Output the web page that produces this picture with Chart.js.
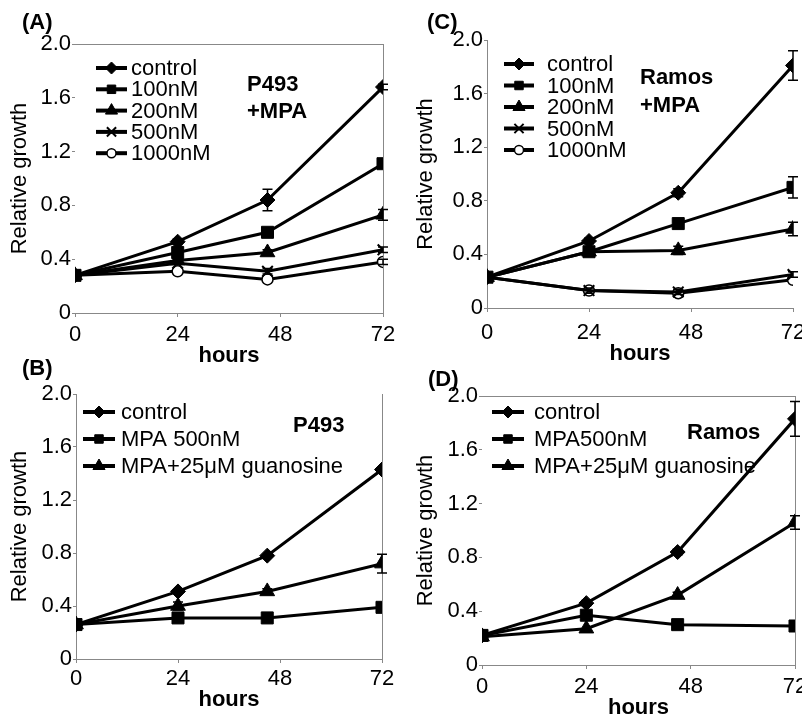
<!DOCTYPE html>
<html>
<head>
<meta charset="utf-8">
<script src="https://cdn.jsdelivr.net/npm/chart.js@4.4.1/dist/chart.umd.min.js"></script>
<style>
  html, body { margin: 0; padding: 0; background: #fff; width: 802px; height: 718px; overflow: hidden; }
  body { position: relative; }
  canvas { position: absolute; }
</style>
</head>
<body>
<canvas id="chartA"></canvas>
<canvas id="chartC"></canvas>
<canvas id="chartB"></canvas>
<canvas id="chartD"></canvas>
<script>
// sampling times (hours) and axis ticks
var hours = [0, 24, 45, 72];
var hourTicks = [0, 24, 48, 72];
var growthTicks = [0, 0.4, 0.8, 1.2, 1.6, 2.0];

// (A) P493 + MPA
var aLabels = ['control', '100nM', '200nM', '500nM', '1000nM'];
var aControl = [0.28, 0.53, 0.84, 1.68];
var a100 = [0.28, 0.45, 0.60, 1.11];
var a200 = [0.28, 0.39, 0.45, 0.73];
var a500 = [0.28, 0.37, 0.31, 0.47];
var a1000 = [0.28, 0.31, 0.25, 0.38];
var aControlErr = [0, 0.02, 0.08, 0.02];
var a200Err = [0, 0, 0.02, 0.04];
var a500Err = [0, 0, 0.02, 0.02];
var a1000Err = [0, 0, 0, 0.02];

// (C) Ramos + MPA
var cLabels = ['control', '100nM', '200nM', '500nM', '1000nM'];
var cControl = [0.23, 0.50, 0.86, 1.81];
var c100 = [0.23, 0.42, 0.63, 0.90];
var c200 = [0.23, 0.42, 0.43, 0.59];
var c500 = [0.23, 0.13, 0.12, 0.25];
var c1000 = [0.23, 0.13, 0.11, 0.21];
var cControlErr = [0, 0.02, 0.03, 0.11];
var c100Err = [0, 0, 0.02, 0.08];
var c200Err = [0, 0, 0.03, 0.05];
var c500Err = [0, 0.02, 0.02, 0.02];

// (B) P493
var bLabels = ['control', 'MPA 500nM', 'MPA+25\u03bcM guanosine'];
var bControl = [0.26, 0.51, 0.78, 1.43];
var bMpa = [0.26, 0.31, 0.31, 0.39];
var bGuan = [0.26, 0.40, 0.51, 0.72];
var bGuanErr = [0, 0.03, 0.02, 0.07];

// (D) Ramos
var dLabels = ['control', 'MPA500nM', 'MPA+25\u03bcM guanosine'];
var dControl = [0.22, 0.46, 0.84, 1.83];
var dMpa = [0.22, 0.37, 0.30, 0.29];
var dGuan = [0.21, 0.27, 0.52, 1.06];
var dControlErr = [0, 0.02, 0.02, 0.13];
var dGuanErr = [0, 0, 0.02, 0.05];

var FONT = "'Liberation Sans', Arial, sans-serif";
var AXIS = '#888';

// marker styles, in legend order
var styles = [
  { shape: 'rectRot', r: 7.5, lr: 6, fill: '#000', bw: 1 },
  { shape: 'rect', r: 8.5, lr: 6, fill: '#000', bw: 1 },
  { shape: 'triangle', r: 8.5, lr: 7, fill: '#000', bw: 1 },
  { shape: 'crossRot', r: 7.5, lr: 6.5, fill: '#000', bw: 2 },
  { shape: 'circle', r: 5.5, lr: 4.5, fill: '#fff', bw: 1.5 }
];

function series(label, values, errors, style) {
  return {
    label: label,
    data: hours.map(function(h, i) { return { x: h, y: values[i] }; }),
    errors: errors,
    borderColor: '#000',
    borderWidth: 3,
    pointStyle: style.shape,
    pointRadius: style.r,
    pointBackgroundColor: style.fill,
    pointBorderColor: '#000',
    pointBorderWidth: style.bw,
    legendRadius: style.lr,
    tension: 0,
    fill: false
  };
}

var panels = [
  { id: 'chartA', cx: 0, cy: 0, cw: 410, ch: 380, area: [75, 44, 383, 313],
    titleX: 20, xh: 56, tickPad: 5, left: false, top: true, right: true,
    legend: { x0: 96, x1: 127, tx: 131, y0: 68, dy: 21.3 },
    notes: [{ t: '(A)', x: 22, y: 23 }, { t: 'P493', x: 247, y: 85 }, { t: '+MPA', x: 247, y: 112 }],
    datasets: [
      series(aLabels[0], aControl, aControlErr, styles[0]),
      series(aLabels[1], a100, null, styles[1]),
      series(aLabels[2], a200, a200Err, styles[2]),
      series(aLabels[3], a500, a500Err, styles[3]),
      series(aLabels[4], a1000, a1000Err, styles[4])
    ] },
  { id: 'chartC', cx: 401, cy: 0, cw: 420, ch: 380, area: [487, 40, 793, 308],
    titleX: 426, xh: 59, tickPad: 8, left: true, top: false, right: false,
    legend: { x0: 504, x1: 534, tx: 547, y0: 64, dy: 21.5 },
    notes: [{ t: '(C)', x: 427, y: 23 }, { t: 'Ramos', x: 640, y: 78 }, { t: '+MPA', x: 640, y: 106 }],
    datasets: [
      series(cLabels[0], cControl, cControlErr, styles[0]),
      series(cLabels[1], c100, c100Err, styles[1]),
      series(cLabels[2], c200, c200Err, styles[2]),
      series(cLabels[3], c500, c500Err, styles[3]),
      series(cLabels[4], c1000, null, styles[4])
    ] },
  { id: 'chartB', cx: 0, cy: 340, cw: 410, ch: 380, area: [76, 394, 382, 659],
    titleX: 20, xh: 54, tickPad: 3, left: true, top: false, right: true,
    legend: { x0: 83, x1: 115, tx: 121, y0: 412, dy: 27 },
    notes: [{ t: '(B)', x: 22, y: 369 }, { t: 'P493', x: 293, y: 426 }],
    datasets: [
      series(bLabels[0], bControl, null, styles[0]),
      series(bLabels[1], bMpa, null, styles[1]),
      series(bLabels[2], bGuan, bGuanErr, styles[2])
    ] },
  { id: 'chartD', cx: 401, cy: 340, cw: 420, ch: 390, area: [482, 396, 795, 665],
    titleX: 426, xh: 56, tickPad: 5, left: false, top: true, right: true,
    legend: { x0: 492, x1: 524, tx: 534, y0: 412, dy: 27 },
    notes: [{ t: '(D)', x: 428, y: 380 }, { t: 'Ramos', x: 687, y: 433 }],
    datasets: [
      series(dLabels[0], dControl, dControlErr, styles[0]),
      series(dLabels[1], dMpa, null, styles[1]),
      series(dLabels[2], dGuan, dGuanErr, styles[2])
    ] }
];

// error bars, drawn through the scales
var errorBars = {
  id: 'errorBars',
  afterDatasetsDraw: function(chart) {
    var ctx = chart.ctx, xs = chart.scales.x, ys = chart.scales.y;
    ctx.save();
    ctx.strokeStyle = '#000';
    ctx.lineWidth = 1.5;
    chart.data.datasets.forEach(function(ds) {
      if (!ds.errors) return;
      ds.data.forEach(function(pt, i) {
        var e = ds.errors[i];
        if (!e) return;
        var x = xs.getPixelForValue(pt.x);
        var y1 = ys.getPixelForValue(pt.y + e);
        var y2 = ys.getPixelForValue(pt.y - e);
        ctx.beginPath();
        ctx.moveTo(x, y1); ctx.lineTo(x, y2);
        ctx.moveTo(x - 5, y1); ctx.lineTo(x + 5, y1);
        ctx.moveTo(x - 5, y2); ctx.lineTo(x + 5, y2);
        ctx.stroke();
      });
    });
    ctx.restore();
  }
};

// top / right frame lines
var frame = {
  id: 'frame',
  beforeDatasetsDraw: function(chart) {
    var p = chart.options.plugins.frame, a = chart.chartArea, ctx = chart.ctx;
    ctx.save();
    ctx.strokeStyle = AXIS;
    ctx.lineWidth = 1;
    ctx.beginPath();
    if (p.top) { ctx.moveTo(a.left, Math.round(a.top) + 0.5); ctx.lineTo(a.right, Math.round(a.top) + 0.5); }
    if (p.right) { ctx.moveTo(Math.round(a.right) + 0.5, a.top); ctx.lineTo(Math.round(a.right) + 0.5, a.bottom); }
    ctx.stroke();
    ctx.restore();
  }
};

// legend with line + marker, and the panel notes
var sideLegend = {
  id: 'sideLegend',
  afterDraw: function(chart) {
    var p = chart.options.plugins.sideLegend, ctx = chart.ctx;
    var lg = p.legend;
    ctx.save();
    ctx.translate(-p.cx, -p.cy);
    chart.data.datasets.forEach(function(ds, i) {
      var y = lg.y0 + i * lg.dy;
      ctx.strokeStyle = '#000';
      ctx.lineWidth = 4;
      ctx.beginPath();
      ctx.moveTo(lg.x0, y); ctx.lineTo(lg.x1, y);
      ctx.stroke();
      ctx.fillStyle = ds.pointBackgroundColor;
      ctx.lineWidth = ds.pointBorderWidth;
      Chart.helpers.drawPoint(ctx, {
        pointStyle: ds.pointStyle, radius: ds.legendRadius, rotation: 0, borderWidth: ds.pointBorderWidth
      }, (lg.x0 + lg.x1) / 2, y);
      ctx.fillStyle = '#000';
      ctx.font = '22px ' + FONT;
      ctx.textAlign = 'left';
      ctx.textBaseline = 'middle';
      ctx.fillText(ds.label, lg.tx, y + 1);
    });
    ctx.font = 'bold 22px ' + FONT;
    ctx.fillStyle = '#000';
    ctx.textAlign = 'left';
    ctx.textBaseline = 'middle';
    p.notes.forEach(function(n) { ctx.fillText(n.t, n.x, n.y); });
    ctx.restore();
  }
};

panels.forEach(function(p) {
  var canvas = document.getElementById(p.id);
  canvas.width = p.cw;
  canvas.height = p.ch;
  canvas.style.left = p.cx + 'px';
  canvas.style.top = p.cy + 'px';

  var pl = p.titleX - p.cx - 13.2;
  var yw = p.area[0] - p.cx - pl;

  new Chart(canvas, {
    type: 'line',
    data: { datasets: p.datasets },
    options: {
      responsive: false,
      animation: false,
      devicePixelRatio: 1,
      layout: {
        padding: {
          left: pl,
          top: p.area[1] - p.cy,
          right: p.cx + p.cw - p.area[2],
          bottom: p.cy + p.ch - p.area[3] - p.xh
        }
      },
      plugins: {
        legend: { display: false },
        tooltip: { enabled: false },
        frame: { top: p.top, right: p.right },
        sideLegend: { legend: p.legend, notes: p.notes, cx: p.cx, cy: p.cy }
      },
      scales: {
        x: {
          type: 'linear', min: 0, max: 72,
          afterBuildTicks: function(s) { s.ticks = hourTicks.map(function(v) { return { value: v }; }); },
          afterFit: function(s) { s.height = p.xh; },
          grid: { drawOnChartArea: false, tickLength: 4, color: AXIS },
          border: { display: true, color: AXIS },
          ticks: { color: '#000', font: { family: FONT, size: 22 }, padding: p.tickPad, maxRotation: 0,
                   callback: function(v) { return String(v); } },
          title: { display: true, text: 'hours', color: '#000', padding: 0,
                   font: { family: FONT, size: 22, weight: 'bold' } }
        },
        y: {
          min: 0, max: 2,
          afterBuildTicks: function(s) { s.ticks = growthTicks.map(function(v) { return { value: v }; }); },
          afterFit: function(s) { s.width = yw; },
          grid: { drawOnChartArea: false, tickLength: 3, color: AXIS },
          border: { display: p.left, color: AXIS },
          ticks: { color: '#000', font: { family: FONT, size: 22 }, padding: 1,
                   callback: function(v) { return v === 0 ? '0' : v.toFixed(1); } },
          title: { display: true, text: 'Relative growth', color: '#000', padding: 0,
                   font: { family: FONT, size: 22 } }
        }
      }
    },
    plugins: [frame, errorBars, sideLegend]
  });
});
</script>
</body>
</html>
